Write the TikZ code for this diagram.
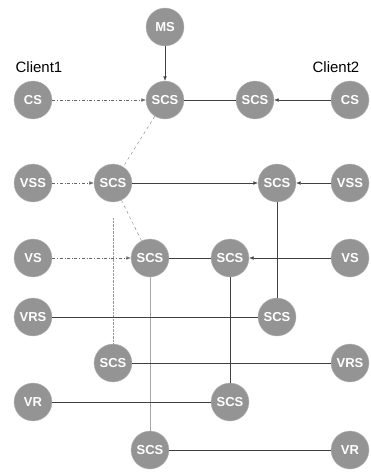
\documentclass[tikz,border=0pt]{standalone}
\usepackage{fontspec}
\setmainfont{Liberation Sans}
\usepackage{tikz}
\usetikzlibrary{arrows.meta}

\begin{document}
\begin{tikzpicture}[x=1pt,y=-1pt,
  srv/.style={circle,fill=black!42,draw=black!28,minimum size=38pt,inner sep=0pt,
    text=white,font=\bfseries\fontsize{13}{15}\selectfont},
  lbl/.style={font=\fontsize{15}{17}\selectfont},
  link/.style={black!75,thin},
  dlink/.style={black!60,thin,dash dot},
  glink/.style={black!35,semithick},
  tip/.style={-{Latex[length=4.5pt,width=3.5pt]}}]
\useasboundingbox (0,0) rectangle (371,474);

% Top: MS and client rows
\node[srv] (ms) at (165,27) {MS};
\node[lbl] (c1) at (39,67) {Client1};
\node[lbl] (c2) at (336,67) {Client2};
\node[srv] (cs1) at (33,100) {CS};
\node[srv] (scs1) at (165,100) {SCS};
\node[srv] (scs2) at (255,100) {SCS};
\node[srv] (cs2) at (350,100) {CS};

% VSS row
\node[srv] (vss1) at (33,183) {VSS};
\node[srv] (scs3) at (113,183) {SCS};
\node[srv] (scs4) at (277,183) {SCS};
\node[srv] (vss2) at (350,183) {VSS};

% VS row
\node[srv] (vs1) at (33,258) {VS};
\node[srv] (scs5) at (150,258) {SCS};
\node[srv] (scs6) at (230,258) {SCS};
\node[srv] (vs2) at (350,258) {VS};

% VRS rows
\node[srv] (vrs1) at (33,317) {VRS};
\node[srv] (scs7) at (277,317) {SCS};
\node[srv] (scs8) at (113,363) {SCS};
\node[srv] (vrs2) at (350,363) {VRS};

% VR rows
\node[srv] (vr1) at (33,402) {VR};
\node[srv] (scs9) at (230,402) {SCS};
\node[srv] (scs10) at (150,450) {SCS};
\node[srv] (vr2) at (350,450) {VR};

% Connectors
\draw[link,tip] (ms) -- (scs1);
\draw[dlink,tip] (cs1) -- (scs1);
\draw[link] (scs1) -- (scs2);
\draw[link,tip] (cs2) -- (scs2);
\draw[black!50,thin,dashed] (scs1) -- (scs3);

\draw[dlink,tip] (vss1) -- (scs3);
\draw[link,tip] (scs3) -- (scs4);
\draw[link,tip] (vss2) -- (scs4);
\draw[black!50,thin,dashed] (scs3) -- (scs5);
\draw[link] (scs4) -- (scs7);

\draw[dlink,tip] (vs1) -- (scs5);
\draw[link] (scs5) -- (scs6);
\draw[link,tip] (vs2) -- (scs6);
\draw[glink] (scs5) -- (scs10);
\draw[link] (scs6) -- (scs9);

% faint drop to lower SCS
\coordinate (gap) at (113,218);
\draw[black!40,thin,densely dotted] (gap) -- (scs8);

\draw[link] (vrs1) -- (scs7);
\draw[link] (scs8) -- (vrs2);
\draw[link] (vr1) -- (scs9);
\draw[link] (scs10) -- (vr2);
\end{tikzpicture}
\end{document}
